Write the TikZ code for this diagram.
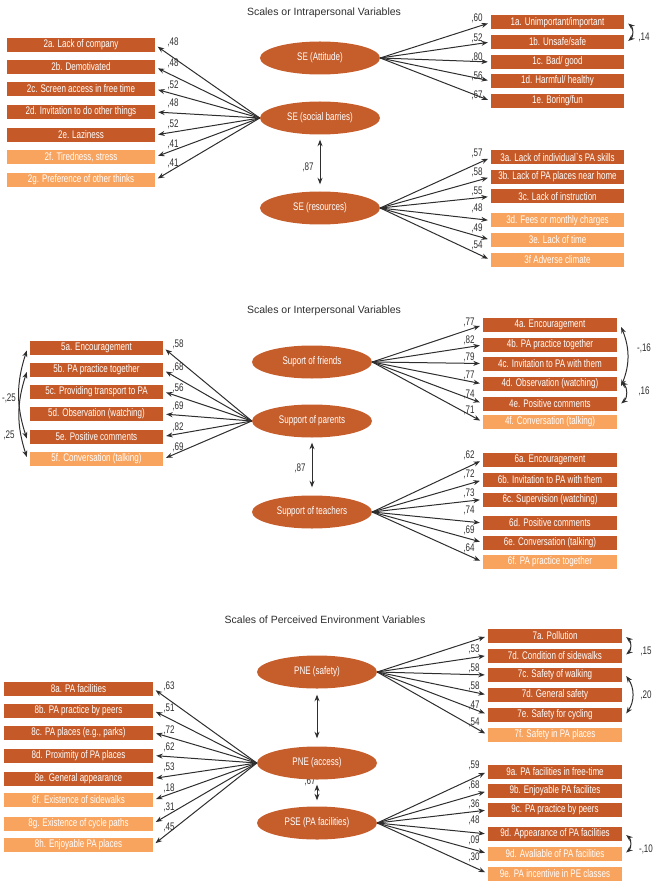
\documentclass[tikz,border=0pt]{standalone}
\usepackage{fontspec}
\setmainfont{Liberation Sans}
\newfontfamily\condfont[FakeStretch=0.73]{Liberation Sans}
\usetikzlibrary{arrows.meta,shapes.geometric}
\definecolor{darkor}{HTML}{C55A28}
\definecolor{lightor}{HTML}{F8A35E}
\definecolor{ellor}{HTML}{C65E2C}
\definecolor{ink}{HTML}{2E2E2E}
\tikzset{
  box/.style={rectangle, minimum height=14pt, inner sep=0pt, text=white, font=\condfont\fontsize{11}{12}\selectfont},
  dbox/.style={box, fill=darkor},
  lbox/.style={box, fill=lightor},
  lat/.style={ellipse, fill=ellor, minimum width=120pt, minimum height=33pt, inner sep=0pt, text=white, font=\condfont\fontsize{11}{12}\selectfont},
  arr/.style={-{Stealth[length=6.5pt,width=5pt]}, draw=ink, line width=1pt, shorten >=3pt},
  dbl/.style={{Stealth[length=6.5pt,width=5pt]}-{Stealth[length=6.5pt,width=5pt]}, draw=ink, line width=1pt},
  lbl/.style={text=ink, inner sep=0pt, font=\condfont\fontsize{11}{12}\selectfont},
  ttl/.style={text=ink, inner sep=0pt, font=\fontsize{10.5}{12}\selectfont},
  wA/.style={minimum width=148pt},
  wB/.style={minimum width=133pt},
  wC/.style={minimum width=134pt},
  wD/.style={minimum width=149pt},
}
\begin{document}
\begin{tikzpicture}[x=1pt,y=-1pt]
\useasboundingbox (0,0) rectangle (655,882);
% ================= Section 1 =================
\node[ttl] (t1) at (324,13) {Scales or Intrapersonal Variables};
\node[lat] (att) at (320,58) {SE (Attitude)};
\node[lat] (sb) at (320,118) {SE (social barries)};
\node[lat] (res) at (320,208) {SE (resources)};
\draw[dbl, shorten <=5pt, shorten >=7pt] (sb) -- (res);
\node[lbl] (l87a) at (308,167) {,87};

\node[dbox,wA] (b2a) at (81,45) {2a. Lack of company};
\node[dbox,wA] (b2b) at (81,67) {2b. Demotivated};
\node[dbox,wA] (b2c) at (81,89) {2c. Screen access in free time};
\node[dbox,wA] (b2d) at (81,112) {2d. Invitation to do other things};
\node[dbox,wA] (b2e) at (81,135) {2e. Laziness};
\node[lbox,wA] (b2f) at (81,157) {2f. Tiredness, stress};
\node[lbox,wA] (b2g) at (81,180) {2g. Preference of other thinks};
\foreach \b in {b2a,b2b,b2c,b2d,b2e,b2f,b2g} \draw[arr] (sb.west) -- (\b.east);
\node[lbl] (l2a) at (173,42) {,48};
\node[lbl] (l2b) at (173,63) {,48};
\node[lbl] (l2c) at (173,85) {,52};
\node[lbl] (l2d) at (173,103) {,48};
\node[lbl] (l2e) at (173,124) {,52};
\node[lbl] (l2f) at (173,144) {,41};
\node[lbl] (l2g) at (173,163) {,41};

\node[dbox,wB] (b1a) at (557.5,22.5) {1a. Unimportant/important};
\node[dbox,wB] (b1b) at (557.5,42) {1b. Unsafe/safe};
\node[dbox,wB] (b1c) at (557.5,62) {1c. Bad/ good};
\node[dbox,wB] (b1d) at (557.5,81) {1d. Harmful/ healthy};
\node[dbox,wB] (b1e) at (557.5,101) {1e. Boring/fun};
\foreach \b in {b1a,b1b,b1c,b1d,b1e} \draw[arr] (att.east) -- (\b.west);
\node[lbl] (l1a) at (477,18) {,60};
\node[lbl] (l1b) at (477,38) {,52};
\node[lbl] (l1c) at (477,57) {,80};
\node[lbl] (l1d) at (477,76) {,56};
\node[lbl] (l1e) at (477,95) {,67};
\draw[dbl] ([xshift=4pt,yshift=-1pt]b1a.east) to[bend left=50] ([xshift=4pt,yshift=1pt]b1b.east);
\node[lbl] (c14) at (644,37) {,14};

\node[dbox,wB] (b3a) at (557.5,157.5) {3a. Lack of individual`s PA skills};
\node[dbox,wB] (b3b) at (557.5,177) {3b. Lack of PA places near home};
\node[dbox,wB] (b3c) at (557.5,196.5) {3c. Lack of instruction};
\node[lbox,wB] (b3d) at (557.5,220.5) {3d. Fees or monthly charges};
\node[lbox,wB] (b3e) at (557.5,240) {3e. Lack of time};
\node[lbox,wB] (b3f) at (557.5,260) {3f Adverse climate};
\foreach \b in {b3a,b3b,b3c,b3d,b3e,b3f} \draw[arr] (res.east) -- (\b.west);
\node[lbl] (l3a) at (477,153) {,57};
\node[lbl] (l3b) at (477,172) {,58};
\node[lbl] (l3c) at (477,191) {,55};
\node[lbl] (l3d) at (477,208) {,48};
\node[lbl] (l3e) at (477,228) {,49};
\node[lbl] (l3f) at (477,245) {,54};

% ================= Section 2 =================
\node[ttl] (t2) at (324,311) {Scales or Interpersonal Variables};
\node[lat] (fr) at (312,362) {Suport of friends};
\node[lat] (pa) at (312,421) {Support of parents};
\node[lat] (te) at (312,512) {Support of teachers};
\draw[dbl, shorten <=5pt, shorten >=8pt] (pa) -- (te);
\node[lbl] (l87b) at (300,468) {,87};

\node[dbox,wB] (b5a) at (96.5,347.5) {5a. Encouragement};
\node[dbox,wB] (b5b) at (96.5,370) {5b. PA practice together};
\node[dbox,wB] (b5c) at (96.5,391.5) {5c. Providing transport to PA};
\node[dbox,wB] (b5d) at (96.5,414) {5d. Observation (watching)};
\node[dbox,wB] (b5e) at (96.5,436.5) {5e. Positive comments};
\node[lbox,wB] (b5f) at (96.5,459) {5f. Conversation (talking)};
\foreach \b in {b5a,b5b,b5c,b5d,b5e,b5f} \draw[arr] (pa.west) -- (\b.east);
\node[lbl] (l5a) at (178,344) {,58};
\node[lbl] (l5b) at (178,367) {,68};
\node[lbl] (l5c) at (178,388) {,56};
\node[lbl] (l5d) at (178,406) {,69};
\node[lbl] (l5e) at (178,427) {,82};
\node[lbl] (l5f) at (178,447) {,69};
\draw[dbl] ([xshift=-3pt,yshift=-3pt]b5a.west) to[bend right=18] ([xshift=-3pt,yshift=-2pt]b5e.west);
\draw[dbl] ([xshift=-3pt,yshift=-2pt]b5b.west) to[bend right=18] ([xshift=-3pt,yshift=2pt]b5f.west);
\node[lbl] (c25a) at (9,398) {-,25};
\node[lbl] (c25b) at (9,435) {,25};

\node[dbox,wC] (b4a) at (550,325) {4a. Encouragement};
\node[dbox,wC] (b4b) at (550,345) {4b. PA practice together};
\node[dbox,wC] (b4c) at (550,363.5) {4c. Invitation to PA with them};
\node[dbox,wC] (b4d) at (550,384) {4d. Observation (watching)};
\node[dbox,wC] (b4e) at (550,403.5) {4e. Positive comments};
\node[lbox,wC] (b4f) at (550,422) {4f. Conversation (talking)};
\foreach \b in {b4a,b4b,b4c,b4d,b4e,b4f} \draw[arr] (fr.east) -- (\b.west);
\node[lbl] (l4a) at (469,322) {,77};
\node[lbl] (l4b) at (469,340) {,82};
\node[lbl] (l4c) at (469,357) {,79};
\node[lbl] (l4d) at (469,375) {,77};
\node[lbl] (l4e) at (469,394) {,74};
\node[lbl] (l4f) at (469,410) {,71};
\draw[dbl] ([xshift=4pt,yshift=-2pt]b4a.east) to[bend left=22] ([xshift=4pt,yshift=-2pt]b4d.east);
\draw[dbl] ([xshift=4pt,yshift=2pt]b4d.east) to[bend left=50] ([xshift=4pt,yshift=0pt]b4e.east);
\node[lbl] (c16a) at (644,348) {-,16};
\node[lbl] (c16b) at (644,391) {,16};

\node[dbox,wC] (b6a) at (550,460) {6a. Encouragement};
\node[dbox,wC] (b6b) at (550,480) {6b. Invitation to PA with them};
\node[dbox,wC] (b6c) at (550,499.5) {6c. Supervision (watching)};
\node[dbox,wC] (b6d) at (550,523) {6d. Positive comments};
\node[dbox,wC] (b6e) at (550,542.5) {6e. Conversation (talking)};
\node[lbox,wC] (b6f) at (550,562) {6f. PA practice together};
\foreach \b in {b6a,b6b,b6c,b6d,b6e,b6f} \draw[arr] (te.east) -- (\b.west);
\node[lbl] (l6a) at (469,455) {,62};
\node[lbl] (l6b) at (469,474) {,72};
\node[lbl] (l6c) at (469,493) {,73};
\node[lbl] (l6d) at (469,510) {,74};
\node[lbl] (l6e) at (469,530) {,69};
\node[lbl] (l6f) at (469,548) {,64};

% ================= Section 3 =================
\node[ttl] (t3) at (325,620) {Scales of Perceived Environment Variables};
\node[lbl] (l67) at (310,781) {,67};
\node[lat] (sf) at (317,672) {PNE (safety)};
\node[lat] (ac) at (317,763) {PNE (access)};
\node[lat] (pse) at (317,823) {PSE (PA facilities)};
\draw[dbl, shorten <=6pt, shorten >=8pt] (sf) -- (ac);
\draw[dbl, shorten <=5pt, shorten >=6pt] (ac) -- (pse);

\node[dbox,wD] (b8a) at (78.5,688.5) {8a. PA facilities};
\node[dbox,wD] (b8b) at (78.5,710.5) {8b. PA practice by peers};
\node[dbox,wD] (b8c) at (78.5,732.5) {8c. PA places (e.g., parks)};
\node[dbox,wD] (b8d) at (78.5,755.5) {8d. Proximity of PA places};
\node[dbox,wD] (b8e) at (78.5,778.5) {8e. General appearance};
\node[lbox,wD] (b8f) at (78.5,800) {8f. Existence of sidewalks};
\node[lbox,wD] (b8g) at (78.5,823.5) {8g. Existence of cycle paths};
\node[lbox,wD] (b8h) at (78.5,845) {8h. Enjoyable PA places};
\foreach \b in {b8a,b8b,b8c,b8d,b8e,b8f,b8g,b8h} \draw[arr] (ac.west) -- (\b.east);
\node[lbl] (l8a) at (169,686) {,63};
\node[lbl] (l8b) at (169,708) {,51};
\node[lbl] (l8c) at (169,730) {,72};
\node[lbl] (l8d) at (169,747) {,62};
\node[lbl] (l8e) at (169,767) {,53};
\node[lbl] (l8f) at (169,788) {,18};
\node[lbl] (l8g) at (169,807) {,31};
\node[lbl] (l8h) at (169,827) {,45};

\node[dbox,wC] (b7a) at (555,636) {7a. Pollution};
\node[dbox,wC] (b7b) at (555,655.5) {7d. Condition of sidewalks};
\node[dbox,wC] (b7c) at (555,675) {7c. Safety of walking};
\node[dbox,wC] (b7d) at (555,695) {7d. General safety};
\node[dbox,wC] (b7e) at (555,714.5) {7e. Safety for cycling};
\node[lbox,wC] (b7f) at (555,735) {7f. Safety in PA places};
\foreach \b in {b7a,b7b,b7c,b7d,b7e,b7f} \draw[arr] (sf.east) -- (\b.west);
\node[lbl] (l7b) at (474,649) {,53};
\node[lbl] (l7c) at (474,668) {,58};
\node[lbl] (l7d) at (474,686) {,58};
\node[lbl] (l7e) at (474,705) {,47};
\node[lbl] (l7f) at (474,722) {,54};
\draw[dbl] ([xshift=4pt,yshift=-1pt]b7a.east) to[bend left=50] ([xshift=4pt,yshift=1pt]b7b.east);
\draw[dbl] ([xshift=4pt,yshift=-1pt]b7c.east) to[bend left=35] ([xshift=4pt,yshift=1pt]b7e.east);
\node[lbl] (c15) at (646,651) {,15};
\node[lbl] (c20) at (646,695) {,20};

\node[dbox,wC] (b9a) at (555,771.5) {9a. PA facilities in free-time};
\node[dbox,wC] (b9b) at (555,791) {9b. Enjoyable PA facilites};
\node[dbox,wC] (b9c) at (555,810) {9c. PA practice by peers};
\node[dbox,wC] (b9d) at (555,834) {9d. Appearance of PA facilities};
\node[lbox,wC] (b9dd) at (555,853.5) {9d. Avaliable of PA facilities};
\node[lbox,wC] (b9e) at (555,873.5) {9e. PA incentivie in PE classes};
\foreach \b in {b9a,b9b,b9c,b9d,b9dd,b9e} \draw[arr] (pse.east) -- (\b.west);
\node[lbl] (l9a) at (474,765) {,59};
\node[lbl] (l9b) at (474,785) {,68};
\node[lbl] (l9c) at (474,804) {,36};
\node[lbl] (l9d) at (474,820) {,48};
\node[lbl] (l9dd) at (474,840) {,09};
\node[lbl] (l9e) at (474,857) {,30};
\draw[dbl] ([xshift=4pt,yshift=-1pt]b9d.east) to[bend left=50] ([xshift=4pt,yshift=1pt]b9dd.east);
\node[lbl] (c10) at (646,849) {-,10};
\end{tikzpicture}
\end{document}
